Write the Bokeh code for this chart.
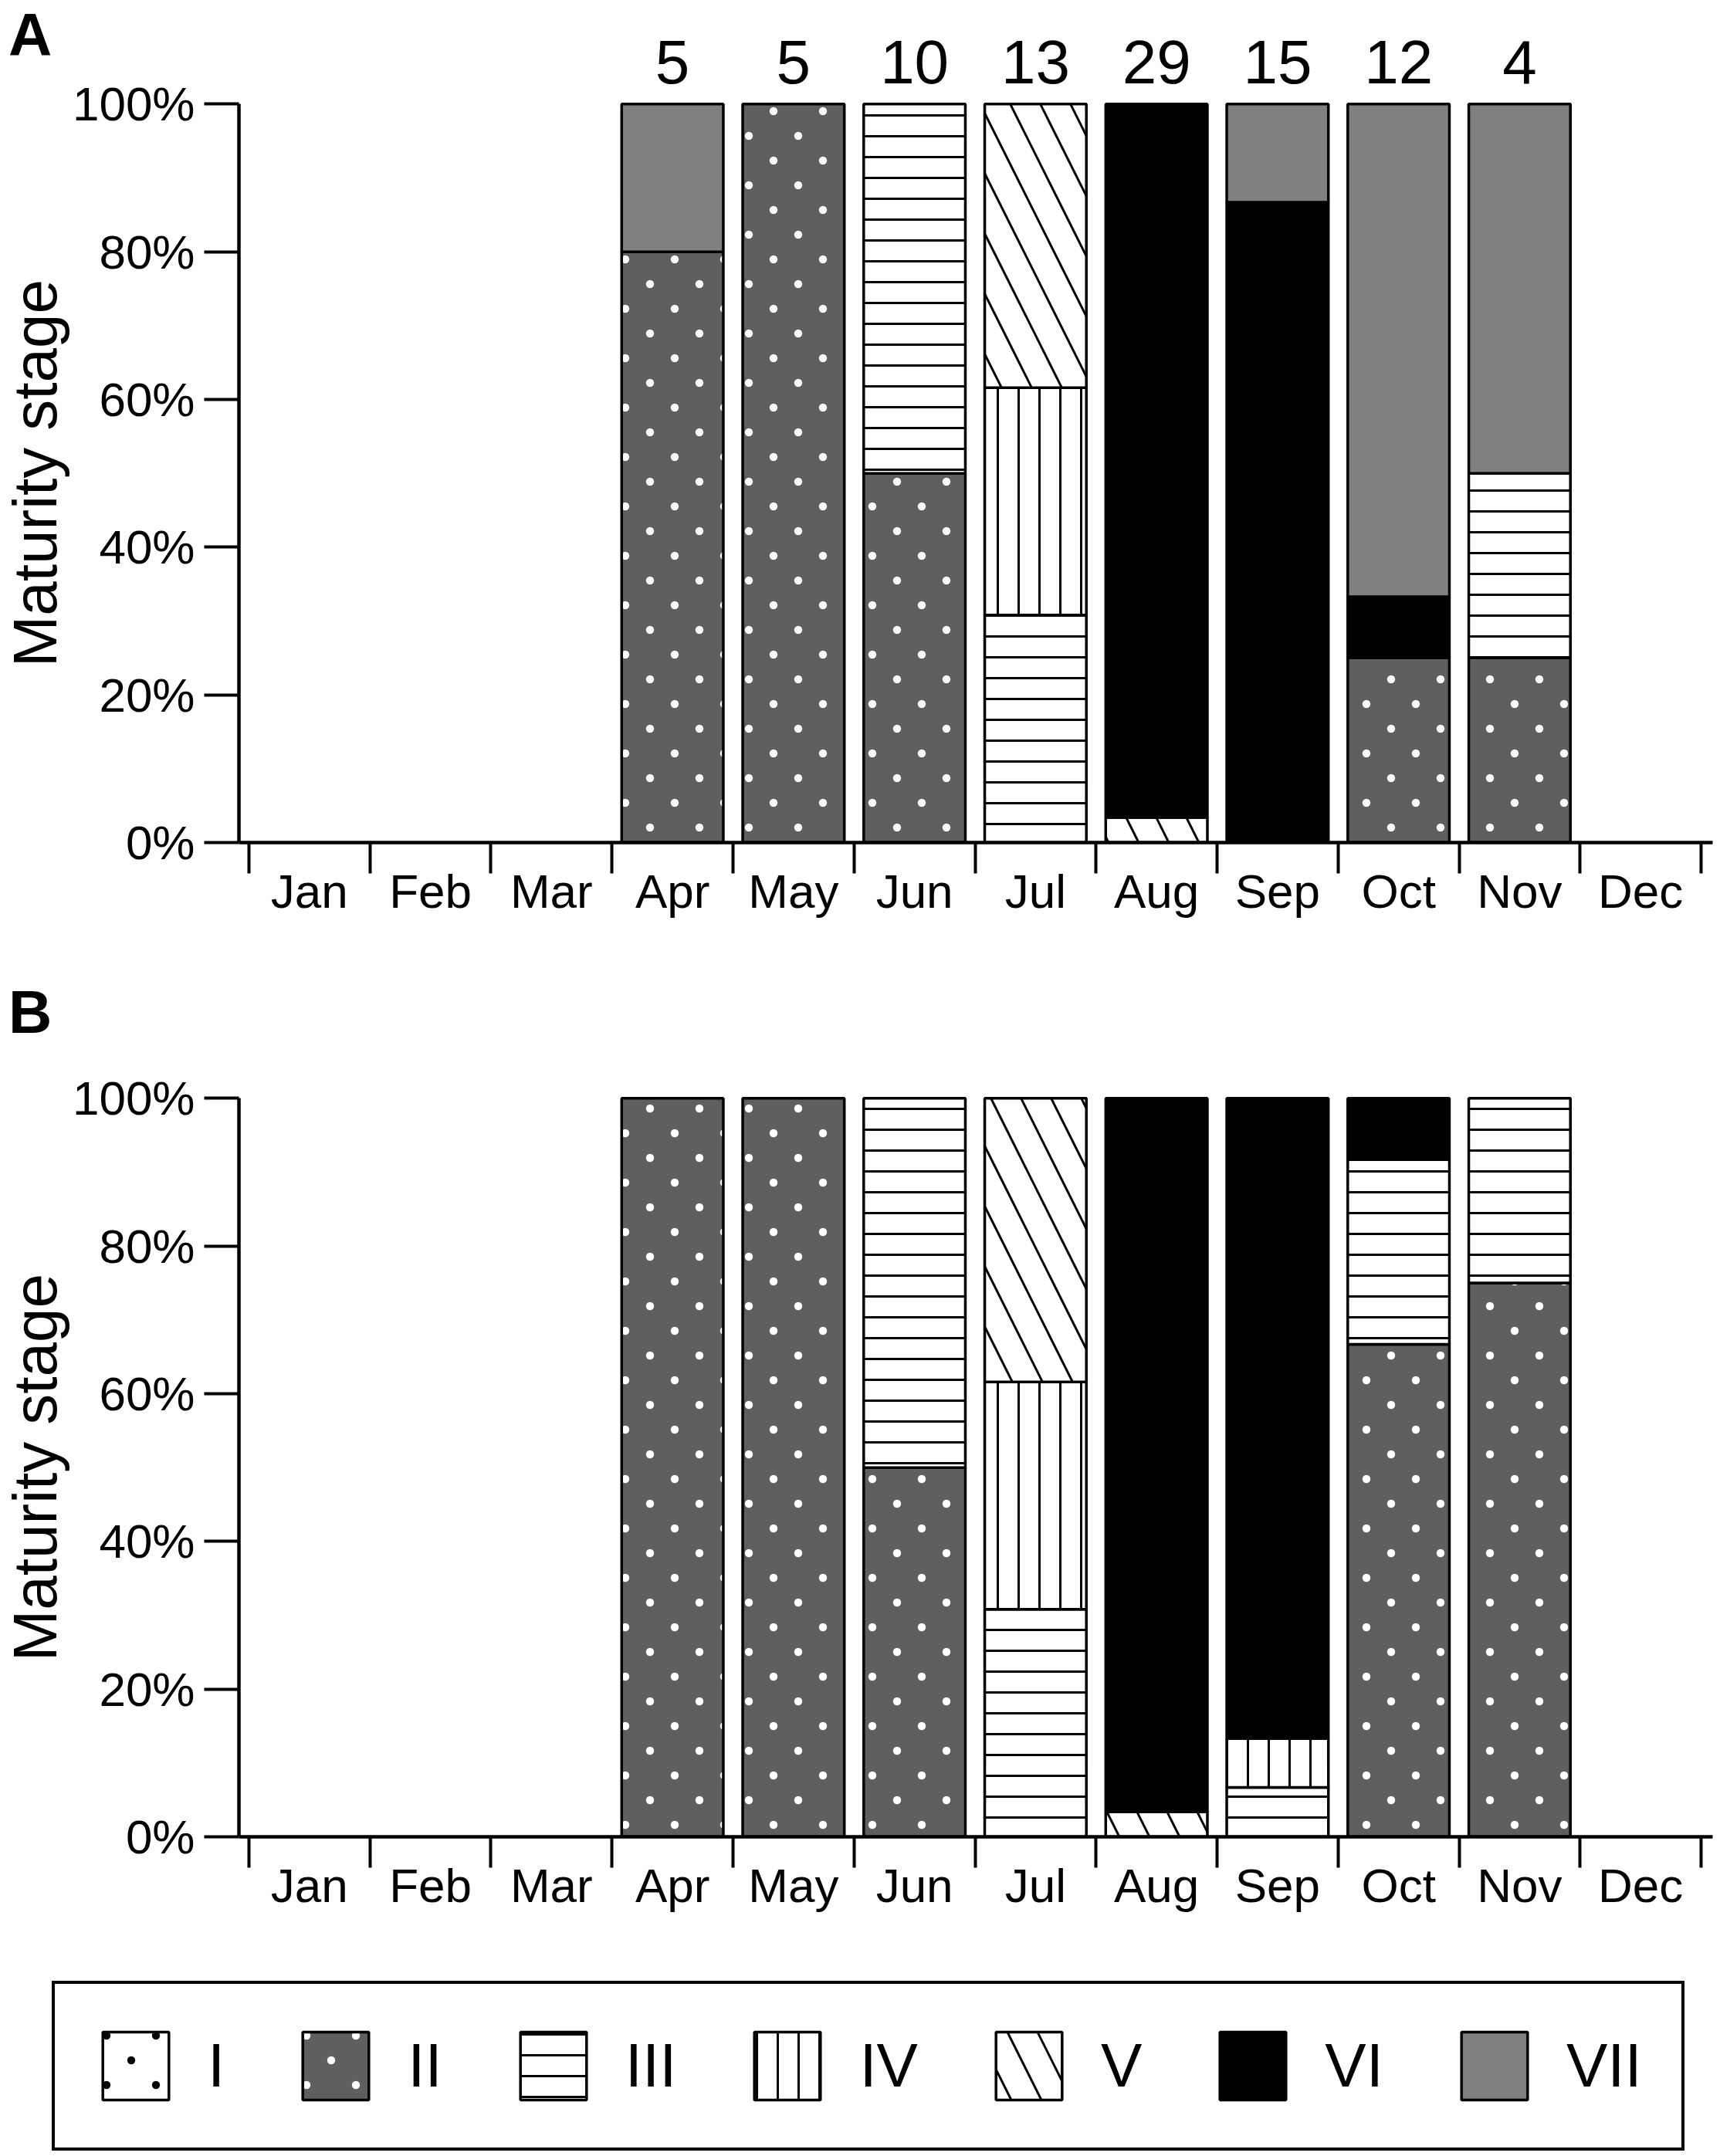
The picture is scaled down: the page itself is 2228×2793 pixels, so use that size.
import base64
import math
from bokeh.plotting import figure
from bokeh.models import (Range1d, FixedTicker, NumeralTickFormatter, Legend, Plot,
                          LegendItem, ColumnDataSource, ImageURLTexture)
from bokeh.layouts import column, row
from bokeh.core.properties import value
from bokeh.embed import file_html
from bokeh.resources import INLINE

FONT = "Liberation Sans"

# ---------------- data ----------------
months = ["Jan", "Feb", "Mar", "Apr", "May", "Jun", "Jul", "Aug", "Sep", "Oct", "Nov", "Dec"]
stages = ["I", "II", "III", "IV", "V", "VI", "VII"]

count_months = ["Apr", "May", "Jun", "Jul", "Aug", "Sep", "Oct", "Nov"]
counts_a = [5, 5, 10, 13, 29, 15, 12, 4]

# percentages per month (Jan..Dec), panel A
a_I   = [0, 0, 0, 0,  0,   0,    0,    0,    0,    0,    0,  0]
a_II  = [0, 0, 0, 80, 100, 50,   0,    0,    0,    25,   25, 0]
a_III = [0, 0, 0, 0,  0,   50,   30.8, 0,    0,    0,    25, 0]
a_IV  = [0, 0, 0, 0,  0,   0,    30.8, 0,    0,    0,    0,  0]
a_V   = [0, 0, 0, 0,  0,   0,    38.4, 3.4,  0,    0,    0,  0]
a_VI  = [0, 0, 0, 0,  0,   0,    0,    96.6, 86.7, 8.3,  0,  0]
a_VII = [0, 0, 0, 20, 0,   0,    0,    0,    13.3, 66.7, 50, 0]

# panel B
b_I   = [0, 0, 0, 0,   0,   0,  0,    0,    0,    0,    0,  0]
b_II  = [0, 0, 0, 100, 100, 50, 0,    0,    0,    66.7, 75, 0]
b_III = [0, 0, 0, 0,   0,   50, 30.8, 0,    6.7,  25,   25, 0]
b_IV  = [0, 0, 0, 0,   0,   0,  30.8, 0,    6.6,  0,    0,  0]
b_V   = [0, 0, 0, 0,   0,   0,  38.4, 3.4,  0,    0,    0,  0]
b_VI  = [0, 0, 0, 0,   0,   0,  0,    96.6, 86.7, 8.3,  0,  0]
b_VII = [0, 0, 0, 0,   0,   0,  0,    0,    0,    0,    0,  0]

panel_a = [a_I, a_II, a_III, a_IV, a_V, a_VI, a_VII]
panel_b = [b_I, b_II, b_III, b_IV, b_V, b_VI, b_VII]

# ---------------- styles ----------------
EXTRA = {}
if "frame_align" in Plot.properties():
    EXTRA["frame_align"] = False


def svg_tile(color):
    svg = ('<svg xmlns="http://www.w3.org/2000/svg" width="64" height="64">'
           '<circle cx="16" cy="16" r="5.2" fill="%s"/>'
           '<circle cx="48" cy="48" r="5.2" fill="%s"/></svg>') % (color, color)
    return "data:image/svg+xml;base64," + base64.b64encode(svg.encode()).decode()


dots_white = ImageURLTexture(url=svg_tile("white"))
dots_black = ImageURLTexture(url=svg_tile("black"))


def style(stage):
    st = dict(line_color="black", line_width=3.5)
    if stage == "I":
        st.update(fill_color="white", hatch_pattern=value("bdots"),
                  hatch_extra={"bdots": dots_black}, hatch_scale=64)
    elif stage == "II":
        st.update(fill_color="#5f5f5f", hatch_pattern=value("wdots"),
                  hatch_extra={"wdots": dots_white}, hatch_scale=64)
    elif stage == "III":
        st.update(fill_color="white", hatch_pattern="-", hatch_color="black",
                  hatch_scale=27, hatch_weight=3)
    elif stage == "IV":
        st.update(fill_color="white", hatch_pattern="|", hatch_color="black",
                  hatch_scale=27, hatch_weight=3)
    elif stage == "V":
        st.update(fill_color="white", hatch_pattern="\\", hatch_color="black",
                  hatch_scale=78, hatch_weight=3)
    elif stage == "VI":
        st.update(fill_color="black")
    else:
        st.update(fill_color="#808080")
    return st


PX_PER_UNIT = 956.7
LEFT_W = 90
MAIN_W = 2228 - LEFT_W
X0 = -0.0828
X1 = X0 + 1912 / 157.0
BAR_W = 0.84


def make_panel(values, height, top_border, bottom_border, letter, letter_y, counts=None):
    frame_h = height - top_border - bottom_border
    y_end = frame_h / PX_PER_UNIT
    yr = Range1d(0, y_end)
    p = figure(width=MAIN_W, height=height, x_range=Range1d(X0, X1), y_range=yr,
               output_backend="svg", toolbar_location=None, title=None,
               min_border_left=306 - LEFT_W, min_border_right=10,
               min_border_top=top_border, min_border_bottom=bottom_border, **EXTRA)
    p.grid.visible = False
    p.outline_line_color = None
    p.background_fill_color = "white"
    p.border_fill_color = "white"

    cum = [0.0] * 12
    for stg, vals in zip(stages, values):
        xs, bots, tops = [], [], []
        for i in range(12):
            v = vals[i] / 100.0
            if v > 0:
                xs.append(i + 0.5)
                bots.append(cum[i])
                tops.append(cum[i] + v)
            cum[i] += v
        src = ColumnDataSource(dict(x=xs, bottom=bots, top=tops))
        p.vbar(x="x", bottom="bottom", top="top", width=BAR_W, source=src, **style(stg))

    yax = p.yaxis[0]
    yax.ticker = FixedTicker(ticks=[0, 0.2, 0.4, 0.6, 0.8, 1.0])
    yax.formatter = NumeralTickFormatter(format="0%")
    yax.bounds = (0, 1)
    yax.axis_line_width = 4.5
    yax.axis_line_color = "black"
    yax.major_tick_out = 45
    yax.major_tick_in = 0
    yax.major_tick_line_width = 4
    yax.major_tick_line_color = "black"
    yax.minor_tick_line_color = None
    yax.major_label_standoff = 12
    yax.major_label_text_font = FONT
    yax.major_label_text_font_size = "62px"
    yax.major_label_text_color = "black"

    xax = p.xaxis[0]
    xax.ticker = FixedTicker(ticks=[i + 0.5 for i in range(12)], minor_ticks=list(range(13)))
    xax.major_label_overrides = {i + 0.5: m for i, m in enumerate(months)}
    xax.axis_line_width = 4.5
    xax.axis_line_color = "black"
    xax.major_tick_line_color = None
    xax.major_tick_out = 0
    xax.major_tick_in = 0
    xax.minor_tick_out = 40
    xax.minor_tick_in = 0
    xax.minor_tick_line_width = 4
    xax.minor_tick_line_color = "black"
    xax.major_label_standoff = -12
    xax.major_label_text_font = FONT
    xax.major_label_text_font_size = "62px"
    xax.major_label_text_color = "black"

    if counts is not None:
        csrc = ColumnDataSource(dict(x=[months.index(m) + 0.5 for m in count_months],
                                     y=[1.0567] * len(count_months),
                                     t=[str(c) for c in counts]))
        p.text(x="x", y="y", text="t", source=csrc, text_font=value(FONT),
               text_font_size="80px", text_align="center", text_baseline="alphabetic",
               text_color="black")

    # left strip holding the panel letter and the rotated axis title
    q = figure(width=LEFT_W, height=height, x_range=Range1d(0, LEFT_W), y_range=yr,
               output_backend="svg", toolbar_location=None, title=None,
               min_border_left=0, min_border_right=0,
               min_border_top=top_border, min_border_bottom=bottom_border,
               x_axis_location=None, y_axis_location=None, **EXTRA)
    q.grid.visible = False
    q.outline_line_color = None
    q.text(x=[10.5], y=[letter_y], text=[letter], text_font=value(FONT), text_font_size="78px",
           text_font_style="bold", text_align="left", text_baseline="alphabetic",
           text_color="black")
    q.text(x=[44.5], y=[0.5], text=["Maturity stage"], angle=math.pi / 2,
           text_font=value(FONT), text_font_size="80px", text_align="center",
           text_baseline="alphabetic", text_color="black")
    return row(q, p)


panel_fig_a = make_panel(panel_a, 1260, 0, 169, "A", 1.0939, counts=counts_a)
panel_fig_b = make_panel(panel_b, 1280, 2, 161, "B", 1.1169)

# ---------------- legend ----------------
pl = figure(width=2228, height=252, x_range=Range1d(0, 1), y_range=Range1d(0, 1),
            min_border=0, min_border_left=0, min_border_right=0, min_border_top=0,
            min_border_bottom=0, toolbar_location=None, output_backend="svg", title=None,
            x_axis_location=None, y_axis_location=None, **EXTRA)
pl.grid.visible = False
pl.outline_line_color = None
pl.background_fill_color = "white"
pl.border_fill_color = "white"
items = []
for stg in stages:
    # a tiny sample bar hidden under the legend box, only so the legend can draw its swatch
    r = pl.vbar(x="x", bottom="bottom", top="top", width=0.005,
                source=ColumnDataSource(dict(x=[0.5], bottom=[0.45], top=[0.5])),
                **style(stg))
    items.append(LegendItem(label=stg, renderers=[r]))
legend = Legend(items=items, orientation="horizontal", location=(67, 6), margin=0,
                glyph_width=107, glyph_height=110, label_standoff=40, spacing=90, padding=51,
                label_text_font=FONT, label_text_font_size="80px", label_text_color="black",
                border_line_color="black", border_line_width=4, border_line_alpha=1.0,
                background_fill_color="white", background_fill_alpha=1.0)
pl.add_layout(legend, "center")

layout = column(panel_fig_a, panel_fig_b, pl)
open("out.html", "w").write(file_html(layout, INLINE))
